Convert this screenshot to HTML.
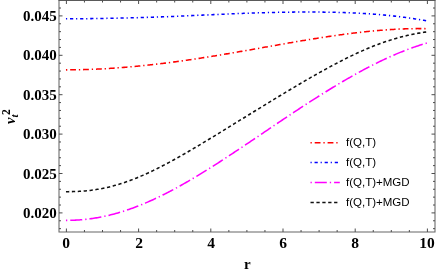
<!DOCTYPE html>
<html><head><meta charset="utf-8"><style>
html,body{margin:0;padding:0;background:#fff}
body{width:436px;height:273px;position:relative;overflow:hidden;font-family:"Liberation Serif",serif}
.yl,.xl,.lg,.t{will-change:transform}
.yl{position:absolute;right:379.2px;font:bold 15px "Liberation Serif",serif;color:#000;line-height:16px;white-space:nowrap}
.xl{position:absolute;top:235.3px;font:bold 15.5px "Liberation Serif",serif;color:#000;line-height:16px;transform:translateX(-50%);white-space:nowrap}
.lg{position:absolute;left:346px;font:11.5px "Liberation Sans",sans-serif;color:#000;line-height:12px;white-space:nowrap}
</style></head><body>
<svg width="436" height="273" viewBox="0 0 436 273" style="position:absolute;left:0;top:0"><path d="M59.0,0.5V232.0H435.0V0.5" fill="none" stroke="#666" stroke-width="1.05"/><path d="M58.35,0.5H435.65" fill="none" stroke="#5a5a5a" stroke-width="1"/><path d="M66.40,232.0v-3.5M66.40,0.5v3.5M84.45,232.0v-2M84.45,0.5v2M102.50,232.0v-2M102.50,0.5v2M120.55,232.0v-2M120.55,0.5v2M138.60,232.0v-3.5M138.60,0.5v3.5M156.65,232.0v-2M156.65,0.5v2M174.70,232.0v-2M174.70,0.5v2M192.75,232.0v-2M192.75,0.5v2M210.80,232.0v-3.5M210.80,0.5v3.5M228.85,232.0v-2M228.85,0.5v2M246.90,232.0v-2M246.90,0.5v2M264.95,232.0v-2M264.95,0.5v2M283.00,232.0v-3.5M283.00,0.5v3.5M301.05,232.0v-2M301.05,0.5v2M319.10,232.0v-2M319.10,0.5v2M337.15,232.0v-2M337.15,0.5v2M355.20,232.0v-3.5M355.20,0.5v3.5M373.25,232.0v-2M373.25,0.5v2M391.30,232.0v-2M391.30,0.5v2M409.35,232.0v-2M409.35,0.5v2M427.40,232.0v-3.5M427.40,0.5v3.5M59.0,228.66h2M435.0,228.66h-2M59.0,220.78h2M435.0,220.78h-2M59.0,212.90h3.5M435.0,212.90h-3.5M59.0,205.02h2M435.0,205.02h-2M59.0,197.14h2M435.0,197.14h-2M59.0,189.26h2M435.0,189.26h-2M59.0,181.38h2M435.0,181.38h-2M59.0,173.50h3.5M435.0,173.50h-3.5M59.0,165.62h2M435.0,165.62h-2M59.0,157.74h2M435.0,157.74h-2M59.0,149.86h2M435.0,149.86h-2M59.0,141.98h2M435.0,141.98h-2M59.0,134.10h3.5M435.0,134.10h-3.5M59.0,126.22h2M435.0,126.22h-2M59.0,118.34h2M435.0,118.34h-2M59.0,110.46h2M435.0,110.46h-2M59.0,102.58h2M435.0,102.58h-2M59.0,94.70h3.5M435.0,94.70h-3.5M59.0,86.82h2M435.0,86.82h-2M59.0,78.94h2M435.0,78.94h-2M59.0,71.06h2M435.0,71.06h-2M59.0,63.18h2M435.0,63.18h-2M59.0,55.30h3.5M435.0,55.30h-3.5M59.0,47.42h2M435.0,47.42h-2M59.0,39.54h2M435.0,39.54h-2M59.0,31.66h2M435.0,31.66h-2M59.0,23.78h2M435.0,23.78h-2M59.0,15.90h3.5M435.0,15.90h-3.5M59.0,8.02h2M435.0,8.02h-2" stroke="#4d4d4d" stroke-width="1" fill="none"/><path d="M65.97,69.86 L67.18,69.86 L68.38,69.86 L69.59,69.85 L70.80,69.84 L72.01,69.83 L73.22,69.82 L74.43,69.81 L75.64,69.79 L76.85,69.77 L78.05,69.75 L79.26,69.72 L80.47,69.69 L81.68,69.67 L82.89,69.63 L84.10,69.60 L85.31,69.57 L86.52,69.53 L87.73,69.49 L88.93,69.45 L90.14,69.40 L91.35,69.36 L92.56,69.31 L93.77,69.26 L94.98,69.20 L96.19,69.15 L97.40,69.09 L98.60,69.04 L99.81,68.98 L101.02,68.91 L102.23,68.85 L103.44,68.78 L104.65,68.72 L105.86,68.65 L107.07,68.57 L108.28,68.50 L109.48,68.43 L110.69,68.35 L111.90,68.27 L113.11,68.19 L114.32,68.11 L115.53,68.02 L116.74,67.93 L117.95,67.85 L119.15,67.76 L120.36,67.66 L121.57,67.57 L122.78,67.48 L123.99,67.38 L125.20,67.28 L126.41,67.18 L127.62,67.08 L128.82,66.98 L130.03,66.87 L131.24,66.76 L132.45,66.65 L133.66,66.54 L134.87,66.43 L136.08,66.32 L137.29,66.20 L138.50,66.09 L139.70,65.97 L140.91,65.85 L142.12,65.73 L143.33,65.60 L144.54,65.48 L145.75,65.35 L146.96,65.22 L148.17,65.09 L149.37,64.96 L150.58,64.83 L151.79,64.70 L153.00,64.56 L154.21,64.42 L155.42,64.29 L156.63,64.14 L157.84,64.00 L159.04,63.86 L160.25,63.72 L161.46,63.57 L162.67,63.42 L163.88,63.27 L165.09,63.12 L166.30,62.97 L167.51,62.82 L168.72,62.66 L169.92,62.51 L171.13,62.35 L172.34,62.19 L173.55,62.03 L174.76,61.87 L175.97,61.71 L177.18,61.55 L178.39,61.38 L179.59,61.21 L180.80,61.05 L182.01,60.88 L183.22,60.71 L184.43,60.54 L185.64,60.36 L186.85,60.19 L188.06,60.02 L189.27,59.84 L190.47,59.66 L191.68,59.48 L192.89,59.30 L194.10,59.12 L195.31,58.94 L196.52,58.76 L197.73,58.57 L198.94,58.39 L200.14,58.20 L201.35,58.02 L202.56,57.83 L203.77,57.64 L204.98,57.45 L206.19,57.26 L207.40,57.07 L208.61,56.87 L209.81,56.68 L211.02,56.49 L212.23,56.29 L213.44,56.09 L214.65,55.90 L215.86,55.70 L217.07,55.50 L218.28,55.30 L219.49,55.10 L220.69,54.90 L221.90,54.70 L223.11,54.49 L224.32,54.29 L225.53,54.09 L226.74,53.88 L227.95,53.68 L229.16,53.47 L230.36,53.26 L231.57,53.06 L232.78,52.85 L233.99,52.64 L235.20,52.43 L236.41,52.22 L237.62,52.01 L238.83,51.80 L240.03,51.59 L241.24,51.38 L242.45,51.17 L243.66,50.96 L244.87,50.75 L246.08,50.53 L247.29,50.32 L248.50,50.11 L249.71,49.89 L250.91,49.68 L252.12,49.47 L253.33,49.25 L254.54,49.04 L255.75,48.82 L256.96,48.61 L258.17,48.39 L259.38,48.18 L260.58,47.96 L261.79,47.75 L263.00,47.54 L264.21,47.32 L265.42,47.11 L266.63,46.89 L267.84,46.68 L269.05,46.46 L270.26,46.25 L271.46,46.03 L272.67,45.82 L273.88,45.60 L275.09,45.39 L276.30,45.18 L277.51,44.96 L278.72,44.75 L279.93,44.54 L281.13,44.33 L282.34,44.11 L283.55,43.90 L284.76,43.69 L285.97,43.48 L287.18,43.27 L288.39,43.06 L289.60,42.85 L290.80,42.64 L292.01,42.43 L293.22,42.23 L294.43,42.02 L295.64,41.81 L296.85,41.61 L298.06,41.40 L299.27,41.20 L300.48,40.99 L301.68,40.79 L302.89,40.59 L304.10,40.39 L305.31,40.18 L306.52,39.98 L307.73,39.79 L308.94,39.59 L310.15,39.39 L311.35,39.19 L312.56,39.00 L313.77,38.80 L314.98,38.61 L316.19,38.42 L317.40,38.23 L318.61,38.04 L319.82,37.85 L321.03,37.66 L322.23,37.47 L323.44,37.29 L324.65,37.10 L325.86,36.92 L327.07,36.74 L328.28,36.56 L329.49,36.38 L330.70,36.20 L331.90,36.02 L333.11,35.85 L334.32,35.67 L335.53,35.50 L336.74,35.33 L337.95,35.16 L339.16,34.99 L340.37,34.82 L341.57,34.66 L342.78,34.49 L343.99,34.33 L345.20,34.17 L346.41,34.01 L347.62,33.86 L348.83,33.70 L350.04,33.55 L351.25,33.39 L352.45,33.24 L353.66,33.10 L354.87,32.95 L356.08,32.80 L357.29,32.66 L358.50,32.52 L359.71,32.38 L360.92,32.25 L362.12,32.11 L363.33,31.98 L364.54,31.85 L365.75,31.72 L366.96,31.59 L368.17,31.47 L369.38,31.34 L370.59,31.22 L371.79,31.11 L373.00,30.99 L374.21,30.88 L375.42,30.77 L376.63,30.66 L377.84,30.55 L379.05,30.45 L380.26,30.35 L381.47,30.25 L382.67,30.15 L383.88,30.06 L385.09,29.96 L386.30,29.88 L387.51,29.79 L388.72,29.71 L389.93,29.63 L391.14,29.55 L392.34,29.47 L393.55,29.40 L394.76,29.33 L395.97,29.26 L397.18,29.20 L398.39,29.14 L399.60,29.08 L400.81,29.03 L402.02,28.97 L403.22,28.93 L404.43,28.88 L405.64,28.84 L406.85,28.80 L408.06,28.76 L409.27,28.73 L410.48,28.70 L411.69,28.68 L412.89,28.66 L414.10,28.64 L415.31,28.62 L416.52,28.61 L417.73,28.60 L418.94,28.60 L420.15,28.60 L421.36,28.60 L422.56,28.61 L423.77,28.62 L424.98,28.64 L426.19,28.66 L427.40,28.68" stroke="#f00" stroke-width="1.55" fill="none" stroke-dasharray="1.3 2.9 5.8 2.9"/><path d="M65.97,18.83 L67.18,18.83 L68.38,18.83 L69.59,18.82 L70.80,18.82 L72.01,18.81 L73.22,18.81 L74.43,18.80 L75.64,18.79 L76.85,18.78 L78.05,18.77 L79.26,18.76 L80.47,18.75 L81.68,18.73 L82.89,18.72 L84.10,18.71 L85.31,18.69 L86.52,18.68 L87.73,18.66 L88.93,18.64 L90.14,18.63 L91.35,18.61 L92.56,18.59 L93.77,18.57 L94.98,18.55 L96.19,18.54 L97.40,18.52 L98.60,18.50 L99.81,18.48 L101.02,18.46 L102.23,18.44 L103.44,18.41 L104.65,18.39 L105.86,18.37 L107.07,18.35 L108.28,18.33 L109.48,18.30 L110.69,18.28 L111.90,18.26 L113.11,18.23 L114.32,18.21 L115.53,18.18 L116.74,18.16 L117.95,18.13 L119.15,18.11 L120.36,18.08 L121.57,18.05 L122.78,18.03 L123.99,18.00 L125.20,17.97 L126.41,17.94 L127.62,17.91 L128.82,17.88 L130.03,17.85 L131.24,17.82 L132.45,17.79 L133.66,17.76 L134.87,17.73 L136.08,17.69 L137.29,17.66 L138.50,17.63 L139.70,17.59 L140.91,17.56 L142.12,17.52 L143.33,17.48 L144.54,17.45 L145.75,17.41 L146.96,17.37 L148.17,17.33 L149.37,17.30 L150.58,17.26 L151.79,17.22 L153.00,17.18 L154.21,17.13 L155.42,17.09 L156.63,17.05 L157.84,17.01 L159.04,16.96 L160.25,16.92 L161.46,16.88 L162.67,16.83 L163.88,16.79 L165.09,16.74 L166.30,16.69 L167.51,16.65 L168.72,16.60 L169.92,16.55 L171.13,16.50 L172.34,16.45 L173.55,16.40 L174.76,16.36 L175.97,16.31 L177.18,16.25 L178.39,16.20 L179.59,16.15 L180.80,16.10 L182.01,16.05 L183.22,16.00 L184.43,15.94 L185.64,15.89 L186.85,15.84 L188.06,15.78 L189.27,15.73 L190.47,15.68 L191.68,15.62 L192.89,15.57 L194.10,15.51 L195.31,15.46 L196.52,15.40 L197.73,15.35 L198.94,15.29 L200.14,15.24 L201.35,15.18 L202.56,15.13 L203.77,15.07 L204.98,15.02 L206.19,14.96 L207.40,14.91 L208.61,14.85 L209.81,14.80 L211.02,14.74 L212.23,14.69 L213.44,14.63 L214.65,14.58 L215.86,14.52 L217.07,14.47 L218.28,14.41 L219.49,14.36 L220.69,14.31 L221.90,14.25 L223.11,14.20 L224.32,14.15 L225.53,14.09 L226.74,14.04 L227.95,13.99 L229.16,13.94 L230.36,13.89 L231.57,13.84 L232.78,13.79 L233.99,13.74 L235.20,13.69 L236.41,13.64 L237.62,13.59 L238.83,13.54 L240.03,13.49 L241.24,13.45 L242.45,13.40 L243.66,13.35 L244.87,13.31 L246.08,13.26 L247.29,13.22 L248.50,13.18 L249.71,13.13 L250.91,13.09 L252.12,13.05 L253.33,13.01 L254.54,12.97 L255.75,12.93 L256.96,12.89 L258.17,12.85 L259.38,12.82 L260.58,12.78 L261.79,12.74 L263.00,12.71 L264.21,12.68 L265.42,12.64 L266.63,12.61 L267.84,12.58 L269.05,12.55 L270.26,12.52 L271.46,12.49 L272.67,12.46 L273.88,12.43 L275.09,12.40 L276.30,12.38 L277.51,12.35 L278.72,12.33 L279.93,12.31 L281.13,12.28 L282.34,12.26 L283.55,12.24 L284.76,12.22 L285.97,12.20 L287.18,12.18 L288.39,12.17 L289.60,12.15 L290.80,12.14 L292.01,12.12 L293.22,12.11 L294.43,12.10 L295.64,12.09 L296.85,12.08 L298.06,12.07 L299.27,12.06 L300.48,12.05 L301.68,12.05 L302.89,12.04 L304.10,12.04 L305.31,12.04 L306.52,12.03 L307.73,12.03 L308.94,12.03 L310.15,12.04 L311.35,12.04 L312.56,12.04 L313.77,12.05 L314.98,12.05 L316.19,12.06 L317.40,12.07 L318.61,12.08 L319.82,12.09 L321.03,12.10 L322.23,12.12 L323.44,12.13 L324.65,12.15 L325.86,12.17 L327.07,12.18 L328.28,12.20 L329.49,12.23 L330.70,12.25 L331.90,12.27 L333.11,12.30 L334.32,12.33 L335.53,12.35 L336.74,12.38 L337.95,12.42 L339.16,12.45 L340.37,12.48 L341.57,12.52 L342.78,12.56 L343.99,12.60 L345.20,12.64 L346.41,12.68 L347.62,12.72 L348.83,12.77 L350.04,12.82 L351.25,12.87 L352.45,12.92 L353.66,12.97 L354.87,13.03 L356.08,13.09 L357.29,13.15 L358.50,13.21 L359.71,13.27 L360.92,13.34 L362.12,13.40 L363.33,13.47 L364.54,13.54 L365.75,13.62 L366.96,13.70 L368.17,13.77 L369.38,13.85 L370.59,13.94 L371.79,14.02 L373.00,14.11 L374.21,14.20 L375.42,14.29 L376.63,14.39 L377.84,14.49 L379.05,14.59 L380.26,14.69 L381.47,14.80 L382.67,14.91 L383.88,15.02 L385.09,15.13 L386.30,15.25 L387.51,15.37 L388.72,15.49 L389.93,15.61 L391.14,15.74 L392.34,15.87 L393.55,16.01 L394.76,16.14 L395.97,16.28 L397.18,16.43 L398.39,16.57 L399.60,16.72 L400.81,16.87 L402.02,17.03 L403.22,17.19 L404.43,17.35 L405.64,17.51 L406.85,17.68 L408.06,17.85 L409.27,18.02 L410.48,18.20 L411.69,18.38 L412.89,18.56 L414.10,18.75 L415.31,18.93 L416.52,19.12 L417.73,19.32 L418.94,19.52 L420.15,19.72 L421.36,19.92 L422.56,20.12 L423.77,20.33 L424.98,20.54 L426.19,20.75 L427.40,20.97" stroke="#00f" stroke-width="1.55" fill="none" stroke-dasharray="1.2 2.85 3.2 2.85"/><path d="M65.97,191.66 L67.18,191.66 L68.38,191.66 L69.59,191.64 L70.80,191.63 L72.01,191.61 L73.22,191.58 L74.43,191.54 L75.64,191.50 L76.85,191.45 L78.05,191.40 L79.26,191.33 L80.47,191.26 L81.68,191.19 L82.89,191.10 L84.10,191.00 L85.31,190.90 L86.52,190.79 L87.73,190.66 L88.93,190.53 L90.14,190.40 L91.35,190.25 L92.56,190.09 L93.77,189.92 L94.98,189.75 L96.19,189.56 L97.40,189.36 L98.60,189.16 L99.81,188.95 L101.02,188.72 L102.23,188.49 L103.44,188.24 L104.65,187.99 L105.86,187.73 L107.07,187.46 L108.28,187.17 L109.48,186.88 L110.69,186.58 L111.90,186.27 L113.11,185.95 L114.32,185.62 L115.53,185.28 L116.74,184.93 L117.95,184.58 L119.15,184.21 L120.36,183.83 L121.57,183.45 L122.78,183.06 L123.99,182.65 L125.20,182.24 L126.41,181.82 L127.62,181.39 L128.82,180.96 L130.03,180.51 L131.24,180.06 L132.45,179.60 L133.66,179.13 L134.87,178.65 L136.08,178.17 L137.29,177.67 L138.50,177.17 L139.70,176.67 L140.91,176.15 L142.12,175.63 L143.33,175.10 L144.54,174.56 L145.75,174.02 L146.96,173.47 L148.17,172.92 L149.37,172.35 L150.58,171.79 L151.79,171.21 L153.00,170.63 L154.21,170.04 L155.42,169.45 L156.63,168.85 L157.84,168.25 L159.04,167.64 L160.25,167.03 L161.46,166.41 L162.67,165.78 L163.88,165.16 L165.09,164.52 L166.30,163.88 L167.51,163.24 L168.72,162.59 L169.92,161.94 L171.13,161.29 L172.34,160.63 L173.55,159.96 L174.76,159.30 L175.97,158.63 L177.18,157.95 L178.39,157.27 L179.59,156.59 L180.80,155.91 L182.01,155.22 L183.22,154.53 L184.43,153.84 L185.64,153.14 L186.85,152.44 L188.06,151.74 L189.27,151.04 L190.47,150.33 L191.68,149.62 L192.89,148.91 L194.10,148.20 L195.31,147.48 L196.52,146.77 L197.73,146.05 L198.94,145.33 L200.14,144.60 L201.35,143.88 L202.56,143.16 L203.77,142.43 L204.98,141.70 L206.19,140.97 L207.40,140.24 L208.61,139.51 L209.81,138.77 L211.02,138.04 L212.23,137.30 L213.44,136.56 L214.65,135.83 L215.86,135.09 L217.07,134.35 L218.28,133.61 L219.49,132.87 L220.69,132.13 L221.90,131.39 L223.11,130.64 L224.32,129.90 L225.53,129.16 L226.74,128.41 L227.95,127.67 L229.16,126.92 L230.36,126.18 L231.57,125.43 L232.78,124.69 L233.99,123.94 L235.20,123.20 L236.41,122.45 L237.62,121.71 L238.83,120.96 L240.03,120.21 L241.24,119.47 L242.45,118.72 L243.66,117.98 L244.87,117.23 L246.08,116.49 L247.29,115.74 L248.50,115.00 L249.71,114.25 L250.91,113.51 L252.12,112.76 L253.33,112.02 L254.54,111.27 L255.75,110.53 L256.96,109.79 L258.17,109.05 L259.38,108.30 L260.58,107.56 L261.79,106.82 L263.00,106.08 L264.21,105.34 L265.42,104.60 L266.63,103.86 L267.84,103.12 L269.05,102.38 L270.26,101.65 L271.46,100.91 L272.67,100.18 L273.88,99.44 L275.09,98.71 L276.30,97.97 L277.51,97.24 L278.72,96.51 L279.93,95.78 L281.13,95.05 L282.34,94.32 L283.55,93.59 L284.76,92.86 L285.97,92.14 L287.18,91.41 L288.39,90.69 L289.60,89.97 L290.80,89.24 L292.01,88.52 L293.22,87.80 L294.43,87.09 L295.64,86.37 L296.85,85.66 L298.06,84.94 L299.27,84.23 L300.48,83.52 L301.68,82.81 L302.89,82.10 L304.10,81.40 L305.31,80.69 L306.52,79.99 L307.73,79.29 L308.94,78.59 L310.15,77.90 L311.35,77.20 L312.56,76.51 L313.77,75.82 L314.98,75.13 L316.19,74.45 L317.40,73.77 L318.61,73.08 L319.82,72.41 L321.03,71.73 L322.23,71.06 L323.44,70.39 L324.65,69.72 L325.86,69.06 L327.07,68.40 L328.28,67.74 L329.49,67.08 L330.70,66.43 L331.90,65.78 L333.11,65.13 L334.32,64.49 L335.53,63.85 L336.74,63.22 L337.95,62.59 L339.16,61.96 L340.37,61.34 L341.57,60.72 L342.78,60.10 L343.99,59.49 L345.20,58.88 L346.41,58.28 L347.62,57.68 L348.83,57.09 L350.04,56.50 L351.25,55.92 L352.45,55.34 L353.66,54.76 L354.87,54.19 L356.08,53.63 L357.29,53.07 L358.50,52.52 L359.71,51.97 L360.92,51.43 L362.12,50.89 L363.33,50.36 L364.54,49.83 L365.75,49.31 L366.96,48.80 L368.17,48.29 L369.38,47.79 L370.59,47.29 L371.79,46.80 L373.00,46.32 L374.21,45.84 L375.42,45.37 L376.63,44.91 L377.84,44.45 L379.05,44.00 L380.26,43.56 L381.47,43.12 L382.67,42.69 L383.88,42.27 L385.09,41.85 L386.30,41.45 L387.51,41.04 L388.72,40.65 L389.93,40.26 L391.14,39.88 L392.34,39.51 L393.55,39.15 L394.76,38.79 L395.97,38.44 L397.18,38.09 L398.39,37.76 L399.60,37.43 L400.81,37.11 L402.02,36.79 L403.22,36.49 L404.43,36.19 L405.64,35.89 L406.85,35.61 L408.06,35.33 L409.27,35.06 L410.48,34.79 L411.69,34.54 L412.89,34.28 L414.10,34.04 L415.31,33.80 L416.52,33.57 L417.73,33.34 L418.94,33.12 L420.15,32.91 L421.36,32.70 L422.56,32.50 L423.77,32.30 L424.98,32.11 L426.19,31.92 L427.40,31.74" stroke="#111" stroke-width="1.55" fill="none" stroke-dasharray="3.3 2.6"/><path d="M65.97,220.35 L67.18,220.35 L68.38,220.34 L69.59,220.32 L70.80,220.30 L72.01,220.26 L73.22,220.22 L74.43,220.17 L75.64,220.12 L76.85,220.05 L78.05,219.98 L79.26,219.90 L80.47,219.81 L81.68,219.71 L82.89,219.60 L84.10,219.49 L85.31,219.37 L86.52,219.24 L87.73,219.10 L88.93,218.95 L90.14,218.79 L91.35,218.63 L92.56,218.45 L93.77,218.27 L94.98,218.08 L96.19,217.88 L97.40,217.68 L98.60,217.46 L99.81,217.24 L101.02,217.01 L102.23,216.77 L103.44,216.52 L104.65,216.26 L105.86,216.00 L107.07,215.72 L108.28,215.44 L109.48,215.15 L110.69,214.86 L111.90,214.55 L113.11,214.24 L114.32,213.91 L115.53,213.58 L116.74,213.25 L117.95,212.90 L119.15,212.55 L120.36,212.19 L121.57,211.82 L122.78,211.44 L123.99,211.06 L125.20,210.66 L126.41,210.26 L127.62,209.86 L128.82,209.44 L130.03,209.02 L131.24,208.59 L132.45,208.15 L133.66,207.71 L134.87,207.26 L136.08,206.80 L137.29,206.34 L138.50,205.86 L139.70,205.38 L140.91,204.90 L142.12,204.41 L143.33,203.91 L144.54,203.40 L145.75,202.89 L146.96,202.37 L148.17,201.84 L149.37,201.31 L150.58,200.77 L151.79,200.23 L153.00,199.68 L154.21,199.12 L155.42,198.56 L156.63,197.99 L157.84,197.41 L159.04,196.83 L160.25,196.25 L161.46,195.66 L162.67,195.06 L163.88,194.45 L165.09,193.85 L166.30,193.23 L167.51,192.61 L168.72,191.99 L169.92,191.36 L171.13,190.72 L172.34,190.08 L173.55,189.44 L174.76,188.79 L175.97,188.14 L177.18,187.48 L178.39,186.81 L179.59,186.14 L180.80,185.47 L182.01,184.79 L183.22,184.11 L184.43,183.43 L185.64,182.74 L186.85,182.04 L188.06,181.35 L189.27,180.64 L190.47,179.94 L191.68,179.23 L192.89,178.51 L194.10,177.80 L195.31,177.08 L196.52,176.35 L197.73,175.62 L198.94,174.89 L200.14,174.16 L201.35,173.42 L202.56,172.68 L203.77,171.93 L204.98,171.19 L206.19,170.44 L207.40,169.68 L208.61,168.93 L209.81,168.17 L211.02,167.41 L212.23,166.64 L213.44,165.88 L214.65,165.11 L215.86,164.34 L217.07,163.56 L218.28,162.79 L219.49,162.01 L220.69,161.23 L221.90,160.45 L223.11,159.66 L224.32,158.87 L225.53,158.09 L226.74,157.30 L227.95,156.50 L229.16,155.71 L230.36,154.91 L231.57,154.12 L232.78,153.32 L233.99,152.52 L235.20,151.72 L236.41,150.92 L237.62,150.11 L238.83,149.31 L240.03,148.50 L241.24,147.69 L242.45,146.89 L243.66,146.08 L244.87,145.27 L246.08,144.45 L247.29,143.64 L248.50,142.83 L249.71,142.02 L250.91,141.20 L252.12,140.39 L253.33,139.57 L254.54,138.76 L255.75,137.94 L256.96,137.13 L258.17,136.31 L259.38,135.49 L260.58,134.68 L261.79,133.86 L263.00,133.04 L264.21,132.23 L265.42,131.41 L266.63,130.59 L267.84,129.78 L269.05,128.96 L270.26,128.14 L271.46,127.33 L272.67,126.51 L273.88,125.70 L275.09,124.88 L276.30,124.07 L277.51,123.25 L278.72,122.44 L279.93,121.63 L281.13,120.82 L282.34,120.01 L283.55,119.20 L284.76,118.39 L285.97,117.58 L287.18,116.77 L288.39,115.96 L289.60,115.16 L290.80,114.35 L292.01,113.55 L293.22,112.75 L294.43,111.95 L295.64,111.15 L296.85,110.35 L298.06,109.55 L299.27,108.76 L300.48,107.97 L301.68,107.17 L302.89,106.38 L304.10,105.59 L305.31,104.81 L306.52,104.02 L307.73,103.24 L308.94,102.46 L310.15,101.68 L311.35,100.90 L312.56,100.12 L313.77,99.35 L314.98,98.58 L316.19,97.81 L317.40,97.04 L318.61,96.27 L319.82,95.51 L321.03,94.75 L322.23,93.99 L323.44,93.23 L324.65,92.48 L325.86,91.73 L327.07,90.98 L328.28,90.23 L329.49,89.49 L330.70,88.75 L331.90,88.01 L333.11,87.28 L334.32,86.54 L335.53,85.81 L336.74,85.09 L337.95,84.36 L339.16,83.64 L340.37,82.92 L341.57,82.21 L342.78,81.50 L343.99,80.79 L345.20,80.09 L346.41,79.38 L347.62,78.69 L348.83,77.99 L350.04,77.30 L351.25,76.61 L352.45,75.93 L353.66,75.25 L354.87,74.57 L356.08,73.90 L357.29,73.23 L358.50,72.57 L359.71,71.90 L360.92,71.25 L362.12,70.59 L363.33,69.94 L364.54,69.30 L365.75,68.66 L366.96,68.02 L368.17,67.39 L369.38,66.76 L370.59,66.14 L371.79,65.52 L373.00,64.90 L374.21,64.29 L375.42,63.69 L376.63,63.09 L377.84,62.49 L379.05,61.90 L380.26,61.31 L381.47,60.73 L382.67,60.16 L383.88,59.59 L385.09,59.02 L386.30,58.46 L387.51,57.90 L388.72,57.35 L389.93,56.81 L391.14,56.27 L392.34,55.73 L393.55,55.20 L394.76,54.68 L395.97,54.16 L397.18,53.65 L398.39,53.15 L399.60,52.65 L400.81,52.15 L402.02,51.66 L403.22,51.18 L404.43,50.70 L405.64,50.23 L406.85,49.77 L408.06,49.31 L409.27,48.86 L410.48,48.42 L411.69,47.98 L412.89,47.55 L414.10,47.12 L415.31,46.70 L416.52,46.29 L417.73,45.89 L418.94,45.49 L420.15,45.10 L421.36,44.72 L422.56,44.34 L423.77,43.97 L424.98,43.61 L426.19,43.25 L427.40,42.90" stroke="#f0f" stroke-width="1.55" fill="none" stroke-dasharray="1.3 3 12 3"/><path d="M310.5,142.8H339.8" stroke="#f00" stroke-width="1.5" fill="none" stroke-dasharray="1.3 2.9 5.8 2.9"/><path d="M310.5,162.5H339.8" stroke="#00f" stroke-width="1.5" fill="none" stroke-dasharray="1.2 2.85 3.2 2.85"/><path d="M310.5,182.6H339.8" stroke="#f0f" stroke-width="1.5" fill="none" stroke-dasharray="1.3 3 12 3"/><path d="M310.5,202.4H339.8" stroke="#111" stroke-width="1.5" fill="none" stroke-dasharray="3.3 2.6"/></svg>
<div class="yl" style="top:205.0px">0.020</div>
<div class="yl" style="top:165.6px">0.025</div>
<div class="yl" style="top:126.2px">0.030</div>
<div class="yl" style="top:86.8px">0.035</div>
<div class="yl" style="top:47.4px">0.040</div>
<div class="yl" style="top:8.0px">0.045</div>
<div class="xl" style="left:66.4px">0</div>
<div class="xl" style="left:138.6px">2</div>
<div class="xl" style="left:210.8px">4</div>
<div class="xl" style="left:283.0px">6</div>
<div class="xl" style="left:355.2px">8</div>
<div class="xl" style="left:427.4px">10</div>
<div class="lg" style="top:136.3px">f(Q,T)</div>
<div class="lg" style="top:156.0px">f(Q,T)</div>
<div class="lg" style="top:176.1px">f(Q,T)+MGD</div>
<div class="lg" style="top:195.9px">f(Q,T)+MGD</div>
<div class="t" style="position:absolute;left:244.3px;top:256px;font:bold 15px 'Liberation Serif',serif;line-height:16px">r</div>
<div class="t" style="position:absolute;left:0px;top:124.2px;width:0;height:0;transform:rotate(-90deg);transform-origin:0 0;font-family:'Liberation Serif',serif;font-weight:bold;white-space:nowrap">
<span style="position:absolute;left:0px;top:1.8px;font-size:14.5px;line-height:16px;font-style:italic">v</span>
<span style="position:absolute;left:6.4px;top:8.8px;font-size:11px;line-height:10px;font-style:italic">t</span>
<span style="position:absolute;left:9.0px;top:0.67px;font-size:11.5px;line-height:10px">2</span>
</div>
</body></html>
